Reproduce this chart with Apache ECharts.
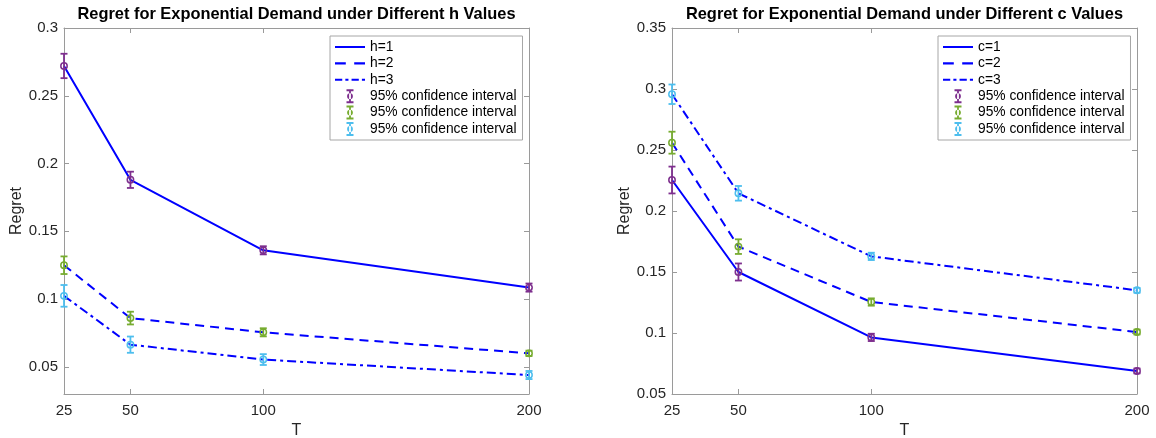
<!DOCTYPE html>
<html>
<head>
<meta charset="utf-8">
<title>Regret for Exponential Demand</title>
<script src="https://cdn.jsdelivr.net/npm/echarts@6/dist/echarts.min.js"></script>
<style>
	html, body { margin: 0; padding: 0; background: #fff; }
	#main { width: 1156px; height: 438px; }
</style>
</head>
<body>
<div id="main"></div>
<script>
// horizon values (x axis)
var T = [25, 50, 100, 200];

// left panel: different h
var hNames = ['h=1', 'h=2', 'h=3'];
var hMean1 = [0.272, 0.188, 0.136, 0.1085];
var hMean2 = [0.125, 0.086, 0.0755, 0.060];
var hMean3 = [0.1024, 0.0664, 0.0554, 0.044];
var hErr1 = [0.009, 0.006, 0.003, 0.003];
var hErr2 = [0.0065, 0.0047, 0.003, 0.002];
var hErr3 = [0.008, 0.006, 0.004, 0.003];

// right panel: different c
var cNames = ['c=1', 'c=2', 'c=3'];
var cMean1 = [0.2254, 0.150, 0.0964, 0.0689];
var cMean2 = [0.256, 0.1708, 0.1254, 0.1008];
var cMean3 = [0.2957, 0.2145, 0.1628, 0.135];
var cErr1 = [0.011, 0.007, 0.003, 0.002];
var cErr2 = [0.009, 0.006, 0.003, 0.002];
var cErr3 = [0.008, 0.006, 0.003, 0.002];

// tick labels
var xTicks = [25, 50, 100, 200];
var yTicksLeft = [0.05, 0.1, 0.15, 0.2, 0.25, 0.3];
var yTicksRight = [0.05, 0.1, 0.15, 0.2, 0.25, 0.3, 0.35];

var ciColors = ['#7E2F8E', '#77AC30', '#4DBEEE'];
var lineBlue = '#0000ff';
var axisGrey = '#9a9a9a';
var font = '"Liberation Sans", Arial, Helvetica, sans-serif';

// legend glyphs (MATLAB style line samples + errorbar)
var icoSolid = 'path://M0,0H30V2H0Z';
var icoDash = 'path://M0,0H9V2H0Z M16,0H25V2H16Z';
var icoDashDot = 'path://M0,0H7V2H0Z M10,0H13V2H10Z M16,0H23V2H16Z M26,0H29V2H26Z';
var icoCI = 'path://M0,0H7V2H0Z M0,12H7V14H0Z M2.6,0H4.4V14H2.6Z M0.6,7A2.9,2.9 0 1 0 6.4,7A2.9,2.9 0 1 0 0.6,7Z';

function pairs(means) {
	var out = [];
	for (var i = 0; i < T.length; i++) {
		out.push([T[i], means[i]]);
	}
	return out;
}

function triples(means, errs) {
	var out = [];
	for (var i = 0; i < T.length; i++) {
		out.push([T[i], means[i], errs[i]]);
	}
	return out;
}

function errRender(color) {
	return function(params, api) {
		var x = api.value(0),
			y = api.value(1),
			e = api.value(2);
		var p = api.coord([x, y]);
		var top = api.coord([x, y + e]);
		var bot = api.coord([x, y - e]);
		var cw = 3.5;
		var st = { stroke: color, lineWidth: 1.8, fill: null };
		return {
			type: 'group',
			children: [
				{ type: 'line', shape: { x1: p[0], y1: top[1], x2: p[0], y2: bot[1] }, style: st },
				{ type: 'line', shape: { x1: p[0] - cw, y1: top[1], x2: p[0] + cw, y2: top[1] }, style: st },
				{ type: 'line', shape: { x1: p[0] - cw, y1: bot[1], x2: p[0] + cw, y2: bot[1] }, style: st },
				{ type: 'circle', shape: { cx: p[0], cy: p[1], r: 3.2 }, style: { stroke: color, fill: 'none', lineWidth: 1.5 } }
			]
		};
	};
}

function lineSeries(name, data, dash, axis) {
	return {
		name: name,
		type: 'line',
		xAxisIndex: axis,
		yAxisIndex: axis,
		data: data,
		symbol: 'none',
		z: 2,
		lineStyle: { color: lineBlue, width: 2, type: dash },
		itemStyle: { color: lineBlue },
		animation: false
	};
}

function ciSeries(name, data, color, axis) {
	return {
		name: name,
		type: 'custom',
		xAxisIndex: axis,
		yAxisIndex: axis,
		data: data,
		z: 3,
		itemStyle: { color: color },
		renderItem: errRender(color),
		animation: false
	};
}

function xAxisCfg(grid, main) {
	return {
		type: 'value',
		gridIndex: grid,
		position: main ? 'bottom' : 'top',
		min: 25,
		max: 200,
		name: main ? 'T' : '',
		nameLocation: 'middle',
		nameGap: 27,
		nameTextStyle: { fontFamily: font, fontSize: 16, color: '#262626' },
		axisLine: { show: true, lineStyle: { color: axisGrey, width: 1 } },
		axisTick: { show: true, inside: true, length: 5, customValues: xTicks, lineStyle: { color: axisGrey } },
		axisLabel: {
			show: main,
			customValues: xTicks,
			margin: 9,
			fontFamily: font,
			fontSize: 15,
			color: '#262626'
		},
		splitLine: { show: false }
	};
}

function yAxisCfg(grid, main, min, max, ticks) {
	return {
		type: 'value',
		gridIndex: grid,
		position: main ? 'left' : 'right',
		min: min,
		max: max,
		name: main ? 'Regret' : '',
		nameLocation: 'middle',
		nameGap: 38,
		nameTextStyle: { fontFamily: font, fontSize: 16, color: '#262626' },
		axisLine: { show: true, lineStyle: { color: axisGrey, width: 1 } },
		axisTick: { show: true, inside: true, length: 5, customValues: ticks, lineStyle: { color: axisGrey } },
		axisLabel: {
			show: main,
			customValues: ticks,
			margin: 6,
			fontFamily: font,
			fontSize: 15,
			color: '#262626',
			formatter: function(v) {
				return String(+(+v).toFixed(2));
			}
		},
		splitLine: { show: false }
	};
}

function legendCfg(left, names, ciNames) {
	var lineIcons = [icoSolid, icoDash, icoDashDot];
	var data = [];
	for (var i = 0; i < names.length; i++) data.push({ name: names[i], icon: lineIcons[i] });
	for (var j = 0; j < ciNames.length; j++) data.push({ name: ciNames[j], icon: icoCI });
	return {
		orient: 'vertical',
		left: left,
		top: 36,
		padding: [4, 6, 4, 5],
		itemGap: 2.4,
		itemWidth: 30,
		itemHeight: 14,
		backgroundColor: '#fff',
		borderColor: '#a6a6a6',
		borderWidth: 1,
		borderRadius: 0,
		selectedMode: false,
		data: data,
		formatter: function(name) {
			return name.indexOf('ci') === 0 ? '95% confidence interval' : name;
		},
		textStyle: { fontFamily: font, fontSize: 13.8, lineHeight: 14, color: '#000' }
	};
}

var chart = echarts.init(document.getElementById('main'), null, { renderer: 'canvas' });

chart.setOption({
	backgroundColor: '#fff',
	animation: false,
	title: [{
		text: 'Regret for Exponential Demand under Different h Values',
		left: 296.5,
		top: 6,
		textAlign: 'center',
		padding: 0,
		textStyle: { fontFamily: font, fontSize: 16.4, fontWeight: 'bold', color: '#000' }
	}, {
		text: 'Regret for Exponential Demand under Different c Values',
		left: 904.5,
		top: 6,
		textAlign: 'center',
		padding: 0,
		textStyle: { fontFamily: font, fontSize: 16.4, fontWeight: 'bold', color: '#000' }
	}],
	grid: [
		{ left: 64, top: 28, width: 465, height: 366, containLabel: false, outerBoundsMode: 'none' },
		{ left: 672, top: 28, width: 465, height: 366, containLabel: false, outerBoundsMode: 'none' }
	],
	xAxis: [
		xAxisCfg(0, true),
		xAxisCfg(1, true),
		xAxisCfg(0, false),
		xAxisCfg(1, false)
	],
	yAxis: [
		yAxisCfg(0, true, 0.03, 0.3, yTicksLeft),
		yAxisCfg(1, true, 0.05, 0.35, yTicksRight),
		yAxisCfg(0, false, 0.03, 0.3, yTicksLeft),
		yAxisCfg(1, false, 0.05, 0.35, yTicksRight)
	],
	legend: [
		legendCfg(330, hNames, ['ciH1', 'ciH2', 'ciH3']),
		legendCfg(938, cNames, ['ciC1', 'ciC2', 'ciC3'])
	],
	series: [
		lineSeries(hNames[0], pairs(hMean1), 'solid', 0),
		lineSeries(hNames[1], pairs(hMean2), [9, 6], 0),
		lineSeries(hNames[2], pairs(hMean3), [9, 4, 3, 4], 0),
		ciSeries('ciH1', triples(hMean1, hErr1), ciColors[0], 0),
		ciSeries('ciH2', triples(hMean2, hErr2), ciColors[1], 0),
		ciSeries('ciH3', triples(hMean3, hErr3), ciColors[2], 0),

		lineSeries(cNames[0], pairs(cMean1), 'solid', 1),
		lineSeries(cNames[1], pairs(cMean2), [9, 6], 1),
		lineSeries(cNames[2], pairs(cMean3), [9, 4, 3, 4], 1),
		ciSeries('ciC1', triples(cMean1, cErr1), ciColors[0], 1),
		ciSeries('ciC2', triples(cMean2, cErr2), ciColors[1], 1),
		ciSeries('ciC3', triples(cMean3, cErr3), ciColors[2], 1)
	]
});
</script>
</body>
</html>
